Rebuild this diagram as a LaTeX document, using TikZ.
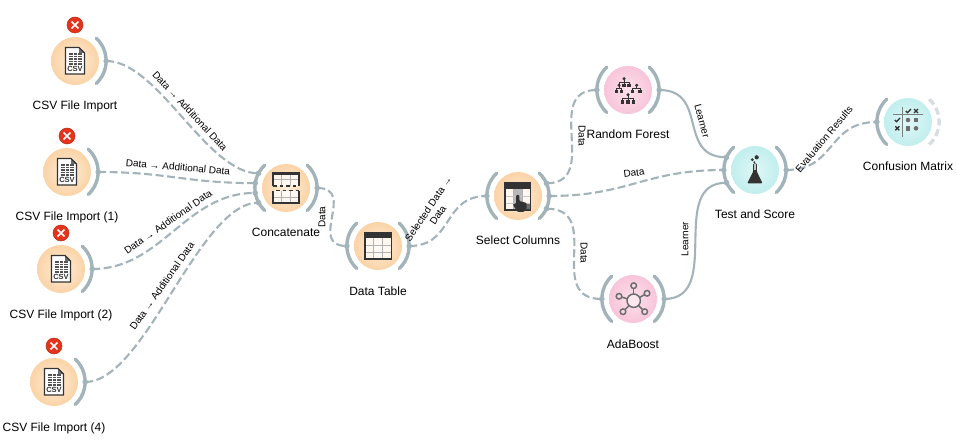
\documentclass[tikz,border=0pt]{standalone}
\usepackage{fontspec}
\setmainfont{Liberation Sans}
\usetikzlibrary{positioning}
\definecolor{linkgray}{HTML}{A3B3BA}
\definecolor{ghostgray}{HTML}{D8DDDF}
\definecolor{icondark}{HTML}{333333}
\definecolor{icongray}{HTML}{6E6E6E}
\definecolor{errred}{HTML}{E5341B}
\newcommand{\widget}[5]{%
  \node[ringslot] (#1) at (#2,#3) {};
  \node[#4] (#1-body) at (#1) {};
  \node[widgetlabel] (#1-label) at (#2,#3-46) {#5};
}
\newcommand{\rightring}[1]{\draw[ringline] (#1.47) arc (47:-47:31);}
\newcommand{\leftring}[1]{\draw[ringline] (#1.133) arc (133:227:31);}
\newcommand{\errbadge}[1]{%
  \node[errdot] (#1-err) at ([yshift=36pt]#1.center) {};
  \draw[white,line width=1.7pt] ([shift={(-3.4,-3.4)}]#1-err.center) -- ([shift={(3.4,3.4)}]#1-err.center);
  \draw[white,line width=1.7pt] ([shift={(-3.4,3.4)}]#1-err.center) -- ([shift={(3.4,-3.4)}]#1-err.center);
}
\newcommand{\csvicon}[1]{%
  \begin{scope}[shift={(#1)}]
    \fill[white] (-9.5,-13) -- (-9.5,13.5) -- (4,13.5) -- (9.5,8) -- (9.5,-13) -- cycle;
    \foreach \y in {7,4.5,2,-0.5,-3} {\draw[icondark!85,line width=1.2pt] (-6.5,\y) -- (6.5,\y);}
    \foreach \x in {-2.2,2.2} {\draw[white,line width=0.6pt] (\x,7.7) -- (\x,-3.7);}
    \fill[icongray] (4,13.5) -- (4,8) -- (9.5,8) -- cycle;
    \draw[icondark,line width=1.3pt] (-9.5,-13) -- (-9.5,13.5) -- (4,13.5) -- (9.5,8) -- (9.5,-13) -- cycle;
    \node[csvtext] (#1-csv) at (0,-8.3) {CSV};
  \end{scope}
}
\newcommand{\gridtable}[4]{% left, bottom, right, top
  \fill[white,opacity=0.75] (#1,#2) rectangle (#3,#4);
  \draw[gray!60,line width=0.7pt] ({(2*#1+#3)/3},#2) -- ({(2*#1+#3)/3},#4)
    ({(#1+2*#3)/3},#2) -- ({(#1+2*#3)/3},#4);
}
\begin{document}
\begin{tikzpicture}[x=1pt,y=1pt,
    ringslot/.style={circle,minimum size=62pt,inner sep=0pt},
    orangebody/.style={circle,minimum size=48pt,inner sep=0pt,shade,inner color={rgb,255:red,253;green,238;blue,220},outer color={rgb,255:red,251;green,211;blue,166}},
    pinkbody/.style={circle,minimum size=48pt,inner sep=0pt,shade,inner color={rgb,255:red,252;green,226;blue,236},outer color={rgb,255:red,248;green,196;blue,217}},
    cyanbody/.style={circle,minimum size=48pt,inner sep=0pt,shade,inner color={rgb,255:red,224;green,247;blue,247},outer color={rgb,255:red,193;green,238;blue,238}},
    widgetlabel/.style={font=\fontsize{12}{14}\selectfont,text height=9pt,text depth=3pt,inner sep=0pt},
    linklabel/.style={font=\fontsize{10}{11.5}\selectfont,align=center,inner sep=0pt},
    csvtext/.style={font=\fontsize{7.5}{8}\selectfont\bfseries,text=icondark,inner sep=0pt},
    ringline/.style={linkgray,line width=3.4pt,line cap=round},
    errdot/.style={circle,minimum size=16pt,inner sep=0pt,fill=errred,draw=errred!80!black,line width=0.5pt},
    datalink/.style={linkgray,line width=2.1pt,dash pattern=on 8pt off 3.5pt},
    learnerlink/.style={linkgray,line width=2.1pt}]
  \useasboundingbox (0,0) rectangle (957,442);
  \widget{csvA}{75}{381}{orangebody}{CSV File Import}
  \widget{csvB}{67}{270}{orangebody}{CSV File Import (1)}
  \widget{csvC}{61}{173}{orangebody}{CSV File Import (2)}
  \widget{csvD}{54}{60}{orangebody}{CSV File Import (4)}
  \widget{concat}{286}{254}{orangebody}{Concatenate}
  \widget{datatable}{378}{196}{orangebody}{Data Table}
  \widget{selcols}{518}{246}{orangebody}{Select Columns}
  \widget{forest}{628}{352}{pinkbody}{Random Forest}
  \widget{testscore}{755}{272}{cyanbody}{Test and Score}
  \widget{adaboost}{633}{143}{pinkbody}{AdaBoost}
  \widget{confusion}{908}{320}{cyanbody}{Confusion Matrix}
  \foreach \n in {csvA,csvB,csvC,csvD} {
    \rightring{\n}
    \errbadge{\n}
    \csvicon{\n}
  }
  \foreach \n in {concat,datatable,selcols,forest,testscore,adaboost} {
    \leftring{\n}
    \rightring{\n}
  }
  \leftring{confusion}
  \draw[ghostgray,line width=3.4pt,dash pattern=on 7pt off 4pt] (confusion.47) arc (47:-47:31);

  \foreach \a/\b/\d in {csvA.0/concat.152/52,csvB.0/concat.171/70,csvC.0/concat.189/70,csvD.0/concat.208/60,
    concat.0/datatable.180/40,datatable.0/selcols.180/45,selcols.24/forest.180/55,selcols.0/testscore.180/80,
    selcols.-24/adaboost.180/58,testscore.0/confusion.180/50} {
    \draw[datalink] (\a) .. controls +(\d,0) and +(-\d,0) .. (\b);
    \fill[linkgray] (\a) circle (2.8);
    \fill[linkgray] (\b) circle (2.8);
  }
  \foreach \a/\b/\d in {forest.0/testscore.156/50,adaboost.0/testscore.204/60} {
    \draw[learnerlink] (\a) .. controls +(\d,0) and +(-\d,0) .. (\b);
    \fill[linkgray] (\a) circle (2.8);
    \fill[linkgray] (\b) circle (2.8);
  }

  \foreach \n/\x/\y/\r/\t in {
    lnkA/190/331/-47/{Data → Additional Data},
    lnkB/178/275/-5/{Data → Additional Data},
    lnkC/168/220/35/{Data → Additional Data},
    lnkD/162/156/55/{Data → Additional Data},
    lnkE/322/225/90/{Data},
    lnkF/433/230/56/{Selected Data →\\Data},
    lnkG/582/306/-90/{Data},
    lnkH/634/269/8/{Data},
    lnkI/584/189/-90/{Data},
    lnkJ/702/321/-75/{Learner},
    lnkK/685/203/90/{Learner},
    lnkL/824/303/50/{Evaluation Results}} {
    \node[linklabel,rotate=\r] (\n) at (\x,\y) {\t};
  }

  % concatenate
  \begin{scope}[shift={(concat)}]
    \gridtable{-13}{2}{13}{15}
    \gridtable{-13}{-15}{13}{-3}
    \draw[gray!60,line width=0.7pt] (-13,8.5) -- (13,8.5) (-13,-9) -- (13,-9);
    \fill[icondark] (-13,12.5) rectangle (13,15);
    \draw[icondark,line width=1.6pt] (-13,2) -- (-13,15) -- (13,15) -- (13,2);
    \draw[icondark,line width=1.6pt] (-13,-3) -- (-13,-15) -- (13,-15) -- (13,-3);
    \draw[icondark,line width=1.7pt,dash pattern=on 3.5pt off 3pt] (-13,2) -- (13,2);
    \draw[icondark,line width=1.7pt,dash pattern=on 3.5pt off 3pt] (-10,-2.5) -- (13,-2.5);
  \end{scope}
  % data table
  \begin{scope}[shift={(datatable)}]
    \gridtable{-13}{-13}{13.5}{13.5}
    \draw[gray!60,line width=0.7pt] (-13,0.5) -- (13.5,0.5) (-13,-6.5) -- (13.5,-6.5);
    \fill[icondark] (-13,7.5) rectangle (13.5,13.5);
    \draw[icondark,line width=1.3pt] (-13,-13) rectangle (13.5,13.5);
  \end{scope}
  % select columns
  \begin{scope}[shift={(selcols)}]
    \gridtable{-13}{-14}{12.5}{13}
    \fill[gray!55] (-4.5,-14) rectangle (4,7);
    \fill[icongray] (4,-14) rectangle (12.5,-7);
    \draw[gray!45,line width=0.7pt] (-13,0) -- (12.5,0) (-13,-7) -- (12.5,-7);
    \fill[icondark] (-13,7) rectangle (12.5,13);
    \draw[icondark,line width=1.3pt] (-13,-14) rectangle (12.5,13);
    \fill[icondark,rounded corners=1pt] (-2,1) -- (1.3,1) -- (1.3,-5) -- (8.7,-7) -- (8.7,-12) -- (6,-16)
      -- (-0.5,-16) -- (-5,-9) -- (-4.5,-7.5) -- (-2,-8) -- cycle;
  \end{scope}
  % random forest
  \begin{scope}[shift={(forest)},icondark]
    \foreach \px/\py/\cx/\cy in {-4/11.3/-9/4.7,-4/11.3/-4/4.7,-4/11.3/1/4.7,-9/4.7/-11.3/-1.3,-9/4.7/-6.3/-1.3,
      8.7/4.7/4.7/-1.3,8.7/4.7/12/-1.3,0/-4.7/-5.3/-12,0/-4.7/0/-12,0/-4.7/5.3/-12} {
      \draw[line width=0.5pt] (\px,\py) -- (\px,{(\py+\cy)/2}) -- (\cx,{(\py+\cy)/2}) -- (\cx,\cy);
    }
    \foreach \x/\y in {-4/11.3,-9/4.7,8.7/4.7,0/-4.7} {\fill (\x,\y) circle (1.7);}
    \foreach \x/\y in {-4/4.7,1/4.7,-11.3/-1.3,-6.3/-1.3,4.7/-1.3,12/-1.3,-5.3/-12,0/-12,5.3/-12} {
      \fill (\x-1.7,\y-1.7) rectangle (\x+1.7,\y+1.7);
    }
  \end{scope}
  % adaboost
  \begin{scope}[shift={(adaboost)},icongray,line width=1.5pt]
    \foreach \x/\y in {0.7/13.3,14/5.7,11.7/-12.7,-10/-12.7,-14/2.7} {
      \draw (0.7,-1.7) -- (\x,\y);
      \draw[fill={rgb,255:red,250;green,215;blue,230}] (\x,\y) circle (2.8);
    }
    \draw[fill={rgb,255:red,253;green,232;blue,240}] (0.7,-1.7) circle (6.7);
  \end{scope}
  % test and score
  \begin{scope}[shift={(testscore)},icondark]
    \fill[rounded corners=1pt] (-1.8,6.5) -- (1.8,6.5) -- (1.8,-1.5) -- (7.5,-13.3) -- (-7.8,-13.3) -- (-1.8,-1.5) -- cycle;
    \fill[gray!45] (-1,5.8) rectangle (1,0);
    \fill (1.7,12.7) circle (2.1);
    \fill (-2.7,10.3) circle (1.6);
    \fill (-0.7,7.8) circle (1);
  \end{scope}
  % confusion matrix
  \begin{scope}[shift={(confusion)}]
    \draw[gray,line width=1pt] (-14.7,7) -- (15.3,7) (-5.7,14.7) -- (-5.7,-14.7);
    \foreach \x/\y in {0.3/11,-10.7/2} {
      \draw[icondark,line width=1.3pt] (\x-2.5,\y) -- (\x-0.7,\y-1.7) -- (\x+2.7,\y+2);
    }
    \foreach \x/\y in {8/11,-10.7/-6.3} {
      \draw[icondark,line width=1.3pt] (\x-2,\y-2) -- (\x+2,\y+2) (\x-2,\y+2) -- (\x+2,\y-2);
    }
    \foreach \x/\y in {0/2,8/-6.3} {\fill[icongray] (\x,\y) circle (2.3);}
    \foreach \x/\y in {8/2,0/-6.3} {\fill[icongray] (\x-2.3,\y-2.3) rectangle (\x+2.3,\y+2.3);}
  \end{scope}
\end{tikzpicture}
\end{document}
